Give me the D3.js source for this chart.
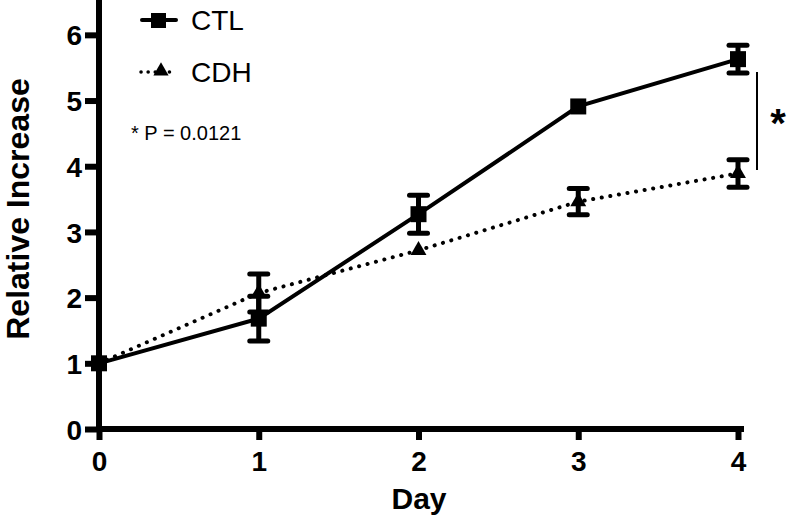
<!DOCTYPE html>
<html><head><meta charset="utf-8">
<script src="https://cdn.jsdelivr.net/npm/d3@7"></script>
<style>body{margin:0;background:#fff}svg{display:block}text{font-family:"Liberation Sans",Arial,sans-serif;fill:#000}</style>
</head><body>
<script>
const days = [0, 1, 2, 3, 4];
const ctlMean = [1.0, 1.68, 3.27, 4.91, 5.63];
const ctlSem  = [0.0, 0.34, 0.29, 0.0, 0.21];
const cdhMean = [1.0, 2.07, 2.72, 3.46, 3.89];
const cdhSem  = [0.0, 0.29, 0.0, 0.20, 0.21];
const xTicks = [0, 1, 2, 3, 4];
const yTicks = [0, 1, 2, 3, 4, 5, 6];
const seriesNames = ["CTL", "CDH"];
const pText = "* P = 0.0121";

const W = 806, H = 525;
const svg = d3.select("body").append("svg").attr("width", W).attr("height", H);
const x = d3.scaleLinear().domain([0, 4]).range([99, 738]);
const y = d3.scaleLinear().domain([0, 6.5]).range([429, 2]);

// axes
const xAxis = d3.axisBottom(x).tickValues(xTicks).tickSize(11).tickSizeOuter(0).tickPadding(6).tickFormat(d3.format("d"));
const yAxis = d3.axisLeft(y).tickValues(yTicks).tickSize(14).tickSizeOuter(0).tickPadding(3).tickFormat(d3.format("d"));
const gx = svg.append("g").attr("transform", "translate(0,429)").call(xAxis);
const gy = svg.append("g").attr("transform", "translate(99,0)").call(yAxis);
[gx, gy].forEach(g => {
  g.select(".domain").attr("stroke", "#000").attr("stroke-width", 6).attr("stroke-linecap", "square");
  g.selectAll(".tick line").attr("stroke", "#000").attr("stroke-width", 6);
  g.selectAll(".tick text").attr("font-size", 28).attr("font-weight", "bold")
    .attr("font-family", "'Liberation Sans', Arial, sans-serif").attr("fill", "#000");
});
gx.select(".domain").attr("d", `M${x(4)+3},0H${x(0)}`);
gx.selectAll(".tick text").attr("dy", "0.9em");
gy.select(".domain").attr("d", `M0,${y(6.5)}V${y(0)}`);
gy.selectAll(".tick text").attr("dy", "0.36em");

// axis titles
svg.append("text").attr("x", 419).attr("y", 509).attr("text-anchor", "middle")
  .attr("font-size", 30).attr("font-weight", "bold").text("Day");
svg.append("text").attr("transform", "translate(29,209) rotate(-90)").attr("text-anchor", "middle")
  .attr("font-size", 32).attr("font-weight", "bold").text("Relative Increase");

const line = d3.line().x((d, i) => x(days[i])).y(d => y(d));

// error bars
function errorBars(means, sems) {
  const g = svg.append("g");
  means.forEach((m, i) => {
    if (sems[i] <= 0) return;
    const cx = x(days[i]);
    g.append("line").attr("x1", cx).attr("x2", cx).attr("y1", y(m + sems[i])).attr("y2", y(m - sems[i]))
      .attr("stroke", "#000").attr("stroke-width", 5);
    [m + sems[i], m - sems[i]].forEach(v => {
      g.append("line").attr("x1", cx - 9).attr("x2", cx + 9).attr("y1", y(v)).attr("y2", y(v))
        .attr("stroke", "#000").attr("stroke-width", 5).attr("stroke-linecap", "round");
    });
  });
}
errorBars(cdhMean, cdhSem);
errorBars(ctlMean, ctlSem);

// CDH dotted line
svg.append("path").attr("d", line(cdhMean)).attr("fill", "none").attr("stroke", "#000")
  .attr("stroke-width", 4).attr("stroke-linecap", "round").attr("stroke-dasharray", "0.1 8.6");
// CTL solid line
svg.append("path").attr("d", line(ctlMean)).attr("fill", "none").attr("stroke", "#000").attr("stroke-width", 4);

const tri = d3.symbol().type(d3.symbolTriangle).size(110);
svg.append("g").selectAll("path").data(cdhMean).join("path")
  .attr("d", tri).attr("transform", (d, i) => `translate(${x(days[i])},${y(d)})`).attr("fill", "#000");
svg.append("g").selectAll("rect").data(ctlMean).join("rect")
  .attr("x", (d, i) => x(days[i]) - 8).attr("y", d => y(d) - 8).attr("width", 16).attr("height", 16).attr("fill", "#000");

// legend
const lg = svg.append("g");
lg.append("line").attr("x1", 142).attr("x2", 176).attr("y1", 20).attr("y2", 20).attr("stroke", "#000").attr("stroke-width", 4).attr("stroke-linecap", "round");
lg.append("rect").attr("x", 151).attr("y", 13).attr("width", 15).attr("height", 15).attr("fill", "#000");
lg.append("text").attr("x", 191).attr("y", 30).attr("font-size", 28).text(seriesNames[0]);
lg.append("line").attr("x1", 141).attr("x2", 174).attr("y1", 72).attr("y2", 72).attr("stroke", "#000").attr("stroke-width", 3.5)
  .attr("stroke-linecap", "round").attr("stroke-dasharray", "0.1 7");
lg.append("path").attr("d", d3.symbol().type(d3.symbolTriangle).size(100)).attr("transform", "translate(161,71)").attr("fill", "#000");
lg.append("text").attr("x", 191).attr("y", 82).attr("font-size", 28).text(seriesNames[1]);
svg.append("text").attr("x", 131).attr("y", 140).attr("font-size", 20).text(pText);

// significance
svg.append("line").attr("x1", 757).attr("x2", 757).attr("y1", 72).attr("y2", 170).attr("stroke", "#000").attr("stroke-width", 2);
svg.append("text").attr("x", 778).attr("y", 137).attr("text-anchor", "middle").attr("font-size", 40).attr("font-weight", "bold").text("*");
</script>
</body></html>
